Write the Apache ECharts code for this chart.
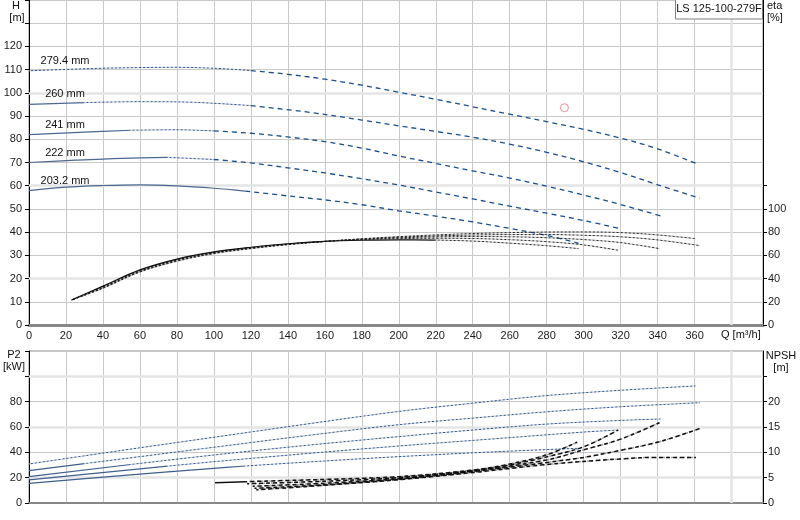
<!DOCTYPE html>
<html><head><meta charset="utf-8">
<script src="https://cdn.jsdelivr.net/npm/echarts@6/dist/echarts.min.js"></script>
<style>html,body{margin:0;padding:0;background:#fff}#c{width:800px;height:520px}</style>
</head><body><div id="c"></div>
<script>
// ---------- data ----------
const diameters = ['279.4 mm', '260 mm', '241 mm', '222 mm', '203.2 mm'];
const xTicks = [0,20,40,60,80,100,120,140,160,180,200,220,240,260,280,300,320,340,360];
const hTickLabels = [0,10,20,30,40,50,60,70,80,90,100,110,120];
const etaTickLabels = [0,20,40,60,80,100];
const p2TickLabels = [0,20,40,60,80];
const npshTickLabels = [0,5,10,15,20];

// Head curves H [m] vs Q [m3/h]
const qH279 = [0,20,40,60,80,100,120,140,160,180,200,220,240,260,280,300,320,340,360.5];
const h279  = [109.5,110.1,110.6,110.9,111,110.6,109.6,108,105.9,103.3,100.3,97.2,94,90.8,87.6,84.3,80.5,75.9,69.7];
const qH260 = [0,30,60,90,120,150,180,200,220,240,260,280,300,320,340,362.9];
const h260  = [95,95.8,96.2,95.9,94.5,91.8,88.3,85.8,83.4,80.9,77.9,74.4,70.3,65.7,60.4,54.6];
const qH241 = [0,30,55,80,100,120,140,160,180,200,220,240,260,280,300,320,341.6];
const h241  = [82,83.1,83.9,84.1,83.6,82.6,81,79,76.2,72.8,69.6,66.4,63.3,59.8,56,51.9,47];
const qH222 = [0,25,50,75,100,120,140,160,180,200,220,240,260,280,300,318.7];
const h222  = [70,71,71.8,72.2,71.3,69.8,67.7,65.5,63,60.3,57.3,54.3,51.2,48.2,45,41.7];
const qH203 = [0,20,40,60,80,100,117,140,160,180,200,220,240,260,280,297.3];
const h203  = [57.9,59.4,60.1,60.4,59.9,58.9,57.7,55.6,53.9,51.8,49.2,46.9,44.4,41.6,38.6,35.2];

// Efficiency curves eta [%]
const qE279 = [23,40,60,80,100,120,140,160,180,200,220,240,260,280,300,320,340,360.5];
const e279  = [21.5,31.6,45.6,54.9,61.5,65.8,69.2,72,74.3,76.1,77.6,78.8,79.6,80.1,80.2,79.6,77.6,74.4];
const qE260 = [23,40,60,80,100,120,140,160,180,200,220,240,260,280,300,320,340,362.9];
const e260  = [21.5,32,46,55.4,61.9,66.1,69.4,72,74,75.6,76.7,77.5,77.9,77.9,77.3,76,73.3,68.4];
const qE241 = [23,40,60,80,100,120,140,160,180,200,220,240,260,280,300,320,341];
const e241  = [21.5,32.5,46.5,55.9,62.3,66.4,69.6,72,73.9,75.1,75.9,76.2,76,75.2,73.6,71,65.8];
const qE222 = [23,40,60,80,100,120,140,160,180,200,220,240,260,280,300,318.7];
const e222  = [21.5,33,47,56.4,62.7,66.7,69.8,72,73.6,74.4,74.7,74.5,73.5,71.8,69,64.4];
const qE203 = [23,40,60,80,100,120,140,160,180,200,220,240,260,280,297.3];
const e203  = [21.5,33.5,47.5,56.8,63,67,70,72,73,73.4,73.2,72.3,70.5,68.3,65.8];

// Shaft power P2 [kW]
const qP279 = [0,50,100,150,200,240,280,320,360.5];
const p279  = [30.8,41.5,51.9,62.3,72.3,78.8,84.8,89,92.4];
const qP260 = [0,30,60,100,150,200,240,280,320,362.9];
const p260  = [25.5,31.1,36.6,44,53.2,61.8,67,72,76,79.2];
const qP241 = [0,55,100,150,200,240,280,320,341.6];
const p241  = [20.8,30.4,37.9,45.5,52.4,57.6,62.3,65.2,66.3];
const qP222 = [0,75,100,150,200,250,300,318.7];
const p222  = [18.2,29.1,32.6,39,45,50.5,56,57.6];
const qP203 = [0,50,100,117,150,200,250,297.3];
const p203  = [15.5,21.6,27.4,29.2,32.3,36.6,40.3,43.2];

// NPSH [m]
const qN279 = [123,160,200,240,280,320,340,360.7];
const n279  = [2.6,3.5,4.6,6.0,7.6,8.7,9.0,9.0];
const qN260 = [122,160,200,240,280,300,320,341,362.9];
const n260  = [2.9,3.6,4.7,6.2,8.0,9.0,10.4,12.1,14.7];
const qN241 = [121,160,200,240,280,300,320,341];
const n241  = [3.3,3.9,4.8,6.3,8.5,10.5,12.6,15.85];
const qN222 = [118,160,200,240,260,280,300,318.7];
const n222  = [3.8,4.3,5.0,6.4,7.5,9.1,11.1,14.4];
const qN203 = [100.6,117,140,160,200,240,260,280,296.5];
const n203  = [4.0,4.2,4.45,4.65,5.2,6.5,7.7,9.5,12.0];

// Duty point
const dutyQ = [289.6];
const dutyH = [93.6];

// ---------- styles ----------
const ST = {
  hSolid: {color:'#4a6890', width:1.2, type:'solid'},
  hDot:   {color:'#1f5290', width:1, type:[2,2], under:'#c4c9d2'},
  hDash:  {color:'#1a4f8b', width:1.3, type:[5,4]},
  pSolid: {color:'#3f5f8c', width:1.2, type:'solid'},
  pDot:   {color:'#1f5290', width:1, type:[2,2], under:'#c4c9d2'},
  eSolid: {color:'#111', width:1.2, type:'solid'},
  eDot:   {color:'#222', width:1, type:[2,2], under:'#bdbdbd'},
  nSolid: {color:'#111', width:1.5, type:'solid'},
  nDash:  {color:'#111', width:1.5, type:[4,3], under:'#9a9a9a'}
};

function split(q, v, breaks) {
  const segs = []; let cur = []; let bi = 0;
  for (let i = 0; i < q.length; i++) {
    cur.push([q[i], v[i]]);
    if (bi < breaks.length && q[i] === breaks[bi] && i < q.length - 1) {
      segs.push(cur); cur = [[q[i], v[i]]]; bi++;
    }
  }
  segs.push(cur);
  return segs;
}

const series = [];
function lineOf(d, xi, yi, ls, z) {
  return {
    type:'line', xAxisIndex:xi, yAxisIndex:yi, data:d,
    showSymbol:false, symbol:'none', smooth:0.35, silent:true, z:z,
    lineStyle:{color:ls.color, width:ls.width, type:ls.type}
  };
}
function addCurve(q, v, breaks, styles, xi, yi, labelText) {
  const segs = split(q, v, breaks);
  segs.forEach((d, i) => {
    const st = styles[i];
    if (st.under) series.push(lineOf(d, xi, yi, {color:st.under, width:st.width, type:[2,2], }, 2));
    const s = lineOf(d, xi, yi, st, 3);
    if (st.under) s.lineStyle.dashOffset = 2;
    if (labelText && i === 0) {
      s.markPoint = {
        symbol:'circle', symbolSize:0, silent:true,
        data:[{coord:d[0], label:{show:true, position:'inside', offset:[36,-10],
          formatter:labelText, color:'#111', fontSize:11, fontFamily:'Liberation Sans, Arial, sans-serif'}}]
      };
    }
    series.push(s);
  });
}

// Head curves (top grid)
addCurve(qH279, h279, [120], [ST.hDot, ST.hDash], 0, 0, diameters[0]);
addCurve(qH260, h260, [30,120], [ST.hSolid, ST.hDot, ST.hDash], 0, 0, diameters[1]);
addCurve(qH241, h241, [55,100], [ST.hSolid, ST.hDot, ST.hDash], 0, 0, diameters[2]);
addCurve(qH222, h222, [75,100], [ST.hSolid, ST.hDot, ST.hDash], 0, 0, diameters[3]);
addCurve(qH203, h203, [117], [ST.hSolid, ST.hDash], 0, 0, diameters[4]);

// Efficiency curves (top grid, right axis)
addCurve(qE279, e279, [], [ST.eDot], 0, 1);
addCurve(qE260, e260, [], [ST.eDot], 0, 1);
addCurve(qE241, e241, [], [ST.eDot], 0, 1);
addCurve(qE222, e222, [], [ST.eDot], 0, 1);
addCurve(qE203, e203, [220], [ST.eSolid, ST.eDot], 0, 1);

// P2 (bottom grid)
addCurve(qP279, p279, [], [ST.pDot], 1, 2);
addCurve(qP260, p260, [30], [ST.pSolid, ST.pDot], 1, 2);
addCurve(qP241, p241, [55], [ST.pSolid, ST.pDot], 1, 2);
addCurve(qP222, p222, [75], [ST.pSolid, ST.pDot], 1, 2);
addCurve(qP203, p203, [117], [ST.pSolid, ST.pDot], 1, 2);

// NPSH (bottom grid, right axis)
addCurve(qN279, n279, [], [ST.nDash], 1, 3);
addCurve(qN260, n260, [], [ST.nDash], 1, 3);
addCurve(qN241, n241, [], [ST.nDash], 1, 3);
addCurve(qN222, n222, [], [ST.nDash], 1, 3);
addCurve(qN203, n203, [117], [ST.nSolid, ST.nDash], 1, 3);

// duty point
series.push({
  type:'scatter', xAxisIndex:0, yAxisIndex:0, z:5, silent:true,
  data: dutyQ.map((q,i)=>[q, dutyH[i]]),
  symbol:'circle', symbolSize:8,
  itemStyle:{color:'rgba(0,0,0,0)', borderColor:'#f07070', borderWidth:1}
});

// emphasised (wide light) grid lines
const wideLine = {color:'#e4e4e4', width:2.5, type:'solid'};
series.push({type:'line', xAxisIndex:0, yAxisIndex:0, data:[], z:1, silent:true,
  markLine:{z:1, silent:true, symbol:'none', label:{show:false}, animation:false, lineStyle:wideLine,
    data:[{yAxis:20},{yAxis:60},{yAxis:100},{xAxis:380}]}});
series.push({type:'line', xAxisIndex:1, yAxisIndex:2, data:[], z:1, silent:true,
  markLine:{z:1, silent:true, symbol:'none', label:{show:false}, animation:false, lineStyle:wideLine,
    data:[{yAxis:20},{yAxis:60},{yAxis:100},{xAxis:380}]}});

const FONT = 'Liberation Sans, Arial, sans-serif';
const labelStyle = {color:'#1a1a1a', fontSize:11, fontFamily:FONT};
const gridLine = {show:true, lineStyle:{color:'#c8c8c8', width:1}};

function xAx(gi, showLabels) {
  return {
    type:'value', gridIndex:gi, min:0, max:397, interval:20,
    axisLine:{show:true, onZero:false, lineStyle:{color:'#888', width: gi===0 ? 3 : 2}},
    axisTick:{show:false},
    axisLabel: Object.assign({show:showLabels, margin:5,
      formatter: v => xTicks.indexOf(v) >= 0 ? String(v) : ''}, labelStyle),
    splitLine: gridLine
  };
}

const option = {
  animation:false,
  backgroundColor:'#fff',
  grid:[
    {left:29, right:37, top:0, height:325, show:true, borderColor:'#8a8a8a', borderWidth:1, containLabel:false},
    {left:29, right:37, top:351, height:152, show:true, borderColor:'#8a8a8a', borderWidth:1, containLabel:false}
  ],
  xAxis:[xAx(0, true), xAx(1, false)],
  yAxis:[
    {type:'value', gridIndex:0, position:'left', min:0, max:140, interval:10,
     axisLine:{show:true, onZero:false, lineStyle:{color:'#000', width:1}},
     axisTick:{show:true, length:4, lineStyle:{color:'#000'}},
     axisLabel:Object.assign({margin:7, formatter: v => hTickLabels.indexOf(v) >= 0 ? String(v) : ''}, labelStyle),
     splitLine:gridLine},
    {type:'value', gridIndex:0, position:'right', min:0, max:280, interval:20,
     axisLine:{show:true, onZero:false, lineStyle:{color:'#000', width:1}},
     axisTick:{show:true, length:4, lineStyle:{color:'#000'}, customValues:[0,20,40,60,80,100,120]},
     axisLabel:Object.assign({margin:5, customValues:etaTickLabels,
       formatter: v => etaTickLabels.indexOf(v) >= 0 ? String(v) : ''}, labelStyle),
     splitLine:{show:false}},
    {type:'value', gridIndex:1, position:'left', min:0, max:120, interval:20,
     axisLine:{show:true, onZero:false, lineStyle:{color:'#000', width:1}},
     axisTick:{show:true, length:4, lineStyle:{color:'#000'}},
     axisLabel:Object.assign({margin:7, formatter: v => p2TickLabels.indexOf(v) >= 0 ? String(v) : ''}, labelStyle),
     splitLine:gridLine},
    {type:'value', gridIndex:1, position:'right', min:0, max:30, interval:5,
     axisLine:{show:true, onZero:false, lineStyle:{color:'#000', width:1}},
     axisTick:{show:true, length:4, lineStyle:{color:'#000'}, customValues:[0,5,10,15,20,25]},
     axisLabel:Object.assign({margin:5, customValues:npshTickLabels,
       formatter: v => npshTickLabels.indexOf(v) >= 0 ? String(v) : ''}, labelStyle),
     splitLine:{show:false}}
  ],
  graphic:[
    {type:'text', z:10, style:{x:16, y:6, text:'H', font:'11px '+FONT, fill:'#111', align:'center', verticalAlign:'middle'}},
    {type:'text', z:10, style:{x:17, y:18, text:'[m]', font:'11px '+FONT, fill:'#111', align:'center', verticalAlign:'middle'}},
    {type:'text', z:10, style:{x:767, y:6, text:'eta', font:'11px '+FONT, fill:'#111', align:'left', verticalAlign:'middle'}},
    {type:'text', z:10, style:{x:767, y:18, text:'[%]', font:'11px '+FONT, fill:'#111', align:'left', verticalAlign:'middle'}},
    {type:'text', z:10, style:{x:14, y:355, text:'P2', font:'11px '+FONT, fill:'#111', align:'center', verticalAlign:'middle'}},
    {type:'text', z:10, style:{x:14, y:367, text:'[kW]', font:'11px '+FONT, fill:'#111', align:'center', verticalAlign:'middle'}},
    {type:'text', z:10, style:{x:781, y:356, text:'NPSH', font:'11px '+FONT, fill:'#111', align:'center', verticalAlign:'middle'}},
    {type:'text', z:10, style:{x:781, y:368, text:'[m]', font:'11px '+FONT, fill:'#111', align:'center', verticalAlign:'middle'}},
    {type:'text', z:10, style:{x:721, y:335, text:'Q [m³/h]', font:'11px '+FONT, fill:'#111', align:'left', verticalAlign:'middle'}},
    {type:'rect', z:10, shape:{x:675.5, y:-0.5, width:87, height:19.5}, style:{fill:'#fff', stroke:'#808080', lineWidth:1}},
    {type:'text', z:11, style:{x:719, y:9, text:'LS 125-100-279F', font:'11px '+FONT, fill:'#111', align:'center', verticalAlign:'middle'}}
  ],
  series: series
};

const chart = echarts.init(document.getElementById('c'), null, {renderer:'canvas'});
chart.setOption(option);
</script>
</body></html>
